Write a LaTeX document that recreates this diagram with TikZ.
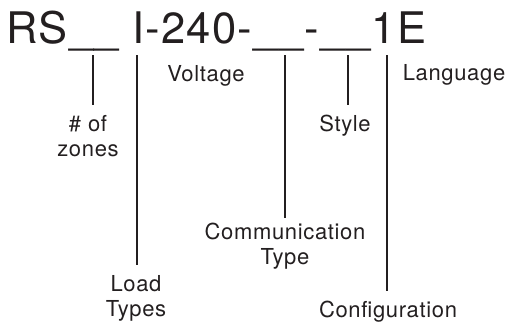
\documentclass[tikz,border=0pt]{standalone}
\usepackage{fontspec}
\setmainfont{TeX Gyre Heros}[LetterSpace=3]
\usepackage{tikz}
\usetikzlibrary{positioning}
\definecolor{ink}{RGB}{35,31,32}

\begin{document}
\begin{tikzpicture}[x=1pt, y=-1pt]
			\tikzstyle{Code}	= [inner sep=0pt, anchor=base west, text=ink, font=\fontsize{43.5}{43.5}\selectfont]
			\tikzstyle{Field}	= [inner sep=0pt, anchor=north, align=center, text=ink, font=\fontsize{22}{25}\selectfont]
			\tikzstyle{Side}	= [Field, anchor=base]
			\tikzstyle{Stem}	= [line width=2.6pt, ink, shorten >=10pt]

			\useasboundingbox (0, 0) rectangle (510, 324);

			\node (code) at (6, 43) [Code] {RS\_\_ I-240-\_\_-\_\_1E};

			\coordinate (t1) at (93, 55);
			\coordinate (t2) at (137, 55);
			\coordinate (t3) at (285, 55);
			\coordinate (t4) at (348, 55);
			\coordinate (t5) at (387, 55);

			\node (zones) at (88, 115) [Field] {\# of\\zones};
			\node (load) at (136, 275) [Field] {Load\\Types};
			\node (volt) at (206, 81) [Side] {Voltage};
			\node (comm) at (285, 223) [Field] {Communication\\Type};
			\node (style) at (345, 115) [Field] {Style};
			\node (lang) at (454, 80) [Side] {Language};
			\node (config) at (388, 301) [Field] {Configuration};

			\draw [-] (t1) to (t1 |- zones.north) [Stem];
			\draw [-] (t2) to (t2 |- load.north) [Stem];
			\draw [-] (t3) to (t3 |- comm.north) [Stem, shorten >=5pt];
			\draw [-] (t4) to (t4 |- style.north) [Stem];
			\draw [-] (t5) to (t5 |- config.north) [Stem];
		\end{tikzpicture}
\end{document}
